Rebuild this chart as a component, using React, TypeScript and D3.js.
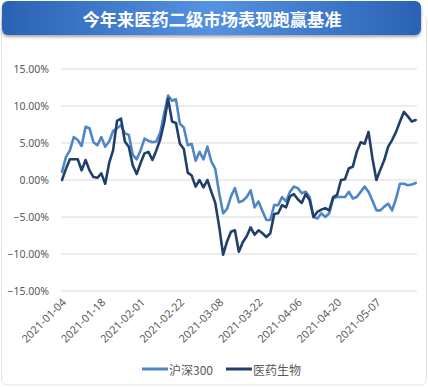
import React from 'react';
import * as d3 from 'd3';

// trading days, 2021-01-04 .. 2021-05-21
const dates: string[] = [
	'2021-01-04', '2021-01-05', '2021-01-06', '2021-01-07', '2021-01-08',
	'2021-01-11', '2021-01-12', '2021-01-13', '2021-01-14', '2021-01-15',
	'2021-01-18', '2021-01-19', '2021-01-20', '2021-01-21', '2021-01-22',
	'2021-01-25', '2021-01-26', '2021-01-27', '2021-01-28', '2021-01-29',
	'2021-02-01', '2021-02-02', '2021-02-03', '2021-02-04', '2021-02-05',
	'2021-02-08', '2021-02-09', '2021-02-10', '2021-02-18', '2021-02-19',
	'2021-02-22', '2021-02-23', '2021-02-24', '2021-02-25', '2021-02-26',
	'2021-03-01', '2021-03-02', '2021-03-03', '2021-03-04', '2021-03-05',
	'2021-03-08', '2021-03-09', '2021-03-10', '2021-03-11', '2021-03-12',
	'2021-03-15', '2021-03-16', '2021-03-17', '2021-03-18', '2021-03-19',
	'2021-03-22', '2021-03-23', '2021-03-24', '2021-03-25', '2021-03-26',
	'2021-03-29', '2021-03-30', '2021-03-31', '2021-04-01', '2021-04-02',
	'2021-04-06', '2021-04-07', '2021-04-08', '2021-04-09', '2021-04-12',
	'2021-04-13', '2021-04-14', '2021-04-15', '2021-04-16', '2021-04-19',
	'2021-04-20', '2021-04-21', '2021-04-22', '2021-04-23', '2021-04-26',
	'2021-04-27', '2021-04-28', '2021-04-29', '2021-04-30', '2021-05-06',
	'2021-05-07', '2021-05-10', '2021-05-11', '2021-05-12', '2021-05-13',
	'2021-05-14', '2021-05-17', '2021-05-18', '2021-05-19', '2021-05-20',
	'2021-05-21',
];

// 沪深300, cumulative return in %
const hs300: number[] = [
	1.1, 3.1, 4.0, 5.8, 5.4, 4.6, 7.2, 7.0, 5.1, 4.7,
	5.8, 4.5, 5.2, 6.6, 7.0, 7.4, 6.3, 6.1, 3.4, 2.8,
	4.0, 5.6, 5.3, 5.1, 5.2, 6.4, 9.0, 11.4, 10.7, 10.9,
	7.6, 7.1, 4.7, 4.9, 2.6, 3.8, 2.8, 4.5, 2.5, 1.5,
	-1.8, -4.5, -3.9, -2.2, -1.1, -3.0, -2.8, -2.3, -1.4, -3.7,
	-2.9, -4.2, -5.4, -5.4, -3.4, -3.4, -2.3, -2.9, -1.6, -0.9,
	-1.1, -1.8, -1.6, -2.3, -5.0, -5.2, -4.5, -5.0, -4.5, -2.5,
	-2.3, -2.3, -2.3, -1.6, -2.5, -2.3, -1.6, -0.9, -1.6, -2.8,
	-4.1, -4.1, -3.6, -3.2, -4.1, -2.5, -0.5, -0.5, -0.7, -0.6,
	-0.4,
];

// 医药生物, cumulative return in %
const pharma: number[] = [
	0.0, 1.5, 2.8, 2.8, 2.8, 1.3, 2.7, 1.3, 0.4, 0.3,
	0.9, -0.5, 2.3, 4.0, 8.0, 8.3, 5.2, 4.5, 2.0, 0.8,
	2.3, 3.6, 3.8, 2.7, 4.0, 5.5, 7.8, 11.0, 7.9, 7.7,
	4.9, 4.2, 1.0, 0.6, -0.9, 0.0, -1.0, 0.0, -1.6, -3.1,
	-6.3, -10.1, -8.3, -7.0, -6.8, -9.7, -8.4, -7.6, -6.4, -7.4,
	-6.8, -7.2, -7.7, -7.2, -4.6, -4.5, -3.4, -3.7, -2.2, -1.9,
	-2.6, -3.1, -1.9, -2.7, -5.0, -4.3, -4.0, -3.8, -4.1, -2.3,
	-2.0, 0.0, 0.1, 1.6, 1.8, 3.8, 5.1, 4.9, 6.5, 2.9,
	0.0, 1.4, 2.7, 4.5, 5.4, 6.5, 7.9, 9.2, 8.6, 7.9,
	8.1,
];

const tickDates: string[] = [
	'2021-01-04', '2021-01-18', '2021-02-01', '2021-02-22', '2021-03-08',
	'2021-03-22', '2021-04-06', '2021-04-20', '2021-05-07',
];
const yTicks: number[] = [15, 10, 5, 0, -5, -10, -15];

const seriesNames = ['沪深300', '医药生物'];
const colors = ['#4f86c6', '#213f6b'];

const W = 428;
const H = 387;
const title = '今年来医药二级市场表现跑赢基准';
const font = '"Noto Sans", "Noto Sans CJK SC", sans-serif';

export default function App() {
	const x = d3.scalePoint<string>().domain(dates).range([62, 415.7]);
	const y = d3.scaleLinear().domain([-15, 15]).range([291, 69]);

	const line = d3
		.line<number>()
		.x((_, i) => x(dates[i]) as number)
		.y((d) => y(d));

	const series = [hs300, pharma];

	return (
		<svg
			width={W}
			height={H}
			style={{ position: 'absolute', left: 0, top: 0, background: '#fff' }}
			fontFamily={font}
		>
			<defs>
				<linearGradient id='bar' x1='0' x2='1' y1='0' y2='0'>
					<stop offset='0' stopColor='#2a62b4' />
					<stop offset='0.5' stopColor='#5592e2' />
					<stop offset='1' stopColor='#2a62b4' />
				</linearGradient>
				<filter id='shadow' x='-5%' y='-30%' width='110%' height='170%'>
					<feDropShadow dx='0' dy='2' stdDeviation='1.5' floodColor='#000' floodOpacity='0.35' />
				</filter>
			</defs>

			{/* outer frame */}
			<rect x={1.5} y={14} width={W - 3} height={H - 16} rx={6} fill='#fff' stroke='#e3e3e3' />

			{/* title bar */}
			<rect x={2} y={1} width={419} height={34} rx={6} fill='url(#bar)' filter='url(#shadow)' />
			<text
				x={212}
				y={18}
				textAnchor='middle'
				dominantBaseline='central'
				fill='#fff'
				fontSize={17.3}
				fontWeight='bold'
				fontFamily='"Noto Sans CJK SC", sans-serif'
			>
				{title}
			</text>

			{/* grid + y labels */}
			{yTicks.map((t) => (
				<g key={t}>
					<line x1={61} x2={417} y1={y(t)} y2={y(t)} stroke='#d9d9d9' strokeWidth={1} />
					<text
						x={49}
						y={y(t)}
						textAnchor='end'
						dominantBaseline='central'
						fontSize={10.5}
						fill='#595959'
					>
						{d3.format('.2f')(t) + '%'}
					</text>
				</g>
			))}

			{/* x labels */}
			{tickDates.map((d) => (
				<text
					key={d}
					transform={`translate(${(x(d) as number) + 5},${303}) rotate(-45)`}
					textAnchor='end'
					fontSize={11}
					fill='#595959'
				>
					{d}
				</text>
			))}

			{/* lines */}
			{series.map((s, k) => (
				<path
					key={k}
					d={line(s) || ''}
					fill='none'
					stroke={colors[k]}
					strokeWidth={2.6}
					strokeLinejoin='round'
					strokeLinecap='round'
				/>
			))}

			{/* legend */}
			{seriesNames.map((n, k) => {
				const lx = [142, 226][k];
				return (
					<g key={n}>
						<line x1={lx} x2={lx + 26} y1={369} y2={369} stroke={colors[k]} strokeWidth={3} />
						<text
							x={lx + 27}
							y={369}
							dominantBaseline='central'
							fontSize={12}
							fill='#595959'
							fontFamily='"Noto Sans CJK SC", sans-serif'
						>
							{n}
						</text>
					</g>
				);
			})}
		</svg>
	);
}
